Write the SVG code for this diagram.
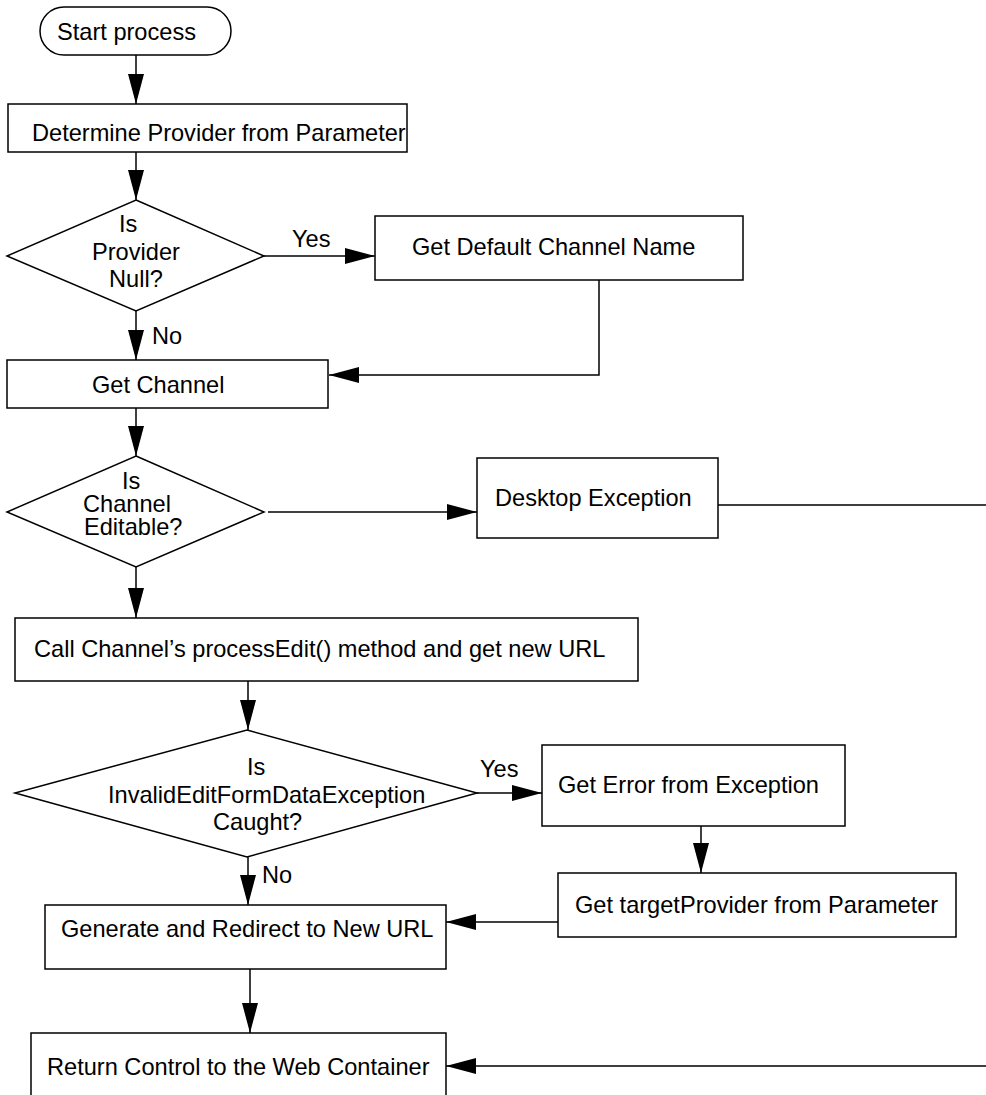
<svg xmlns="http://www.w3.org/2000/svg" width="986" height="1095" viewBox="0 0 986 1095">
<style>
.n{fill:#fff;stroke:#000;stroke-width:1.5}
.c{fill:none;stroke:#000;stroke-width:1.5}
text{font-family:"Liberation Sans",Arial,Helvetica,sans-serif;font-size:23.6px;fill:#000}
</style>
<defs>
<marker id="ah" markerUnits="userSpaceOnUse" markerWidth="30" markerHeight="16" refX="30" refY="8" orient="auto" overflow="visible">
<path d="M0,0 L30,8 L0,16 Z" fill="#000"/>
</marker>
</defs>
<rect width="986" height="1095" fill="#fff"/>
<g id="connectors">
<line class="c" x1="136" y1="55" x2="136" y2="104" marker-end="url(#ah)"/>
<line class="c" x1="136" y1="152" x2="136" y2="200" marker-end="url(#ah)"/>
<line class="c" x1="264" y1="256" x2="375" y2="256" marker-end="url(#ah)"/>
<path class="c" d="M599,280 V375 H329" marker-end="url(#ah)"/>
<line class="c" x1="136" y1="311" x2="136" y2="360" marker-end="url(#ah)"/>
<line class="c" x1="136" y1="408" x2="136" y2="456" marker-end="url(#ah)"/>
<line class="c" x1="268" y1="512" x2="477" y2="512" marker-end="url(#ah)"/>
<path class="c" d="M718,505 H994 V1066 H446" marker-end="url(#ah)"/>
<line class="c" x1="136" y1="567" x2="136" y2="618" marker-end="url(#ah)"/>
<line class="c" x1="248" y1="681" x2="248" y2="730" marker-end="url(#ah)"/>
<line class="c" x1="477" y1="793" x2="542" y2="793" marker-end="url(#ah)"/>
<line class="c" x1="701" y1="826" x2="701" y2="873" marker-end="url(#ah)"/>
<line class="c" x1="558" y1="922" x2="446" y2="922" marker-end="url(#ah)"/>
<line class="c" x1="248" y1="857" x2="248" y2="905" marker-end="url(#ah)"/>
<line class="c" x1="250" y1="969" x2="250" y2="1033" marker-end="url(#ah)"/>
<text x="292" y="247">Yes</text>
<text x="152" y="344">No</text>
<text x="480" y="777">Yes</text>
<text x="262" y="883">No</text>
</g>
<g id="start">
<rect class="n" x="40" y="7" width="191" height="48" rx="24" ry="24"/>
<text x="57" y="40">Start process</text>
</g>
<g id="determine">
<rect class="n" x="8" y="104" width="399" height="48"/>
<text x="32" y="141">Determine Provider from Parameter</text>
</g>
<g id="providerNull">
<polygon class="n" points="136,200 264,256 136,311 7,256"/>
<text x="119" y="232">Is</text>
<text x="92" y="260">Provider</text>
<text x="109" y="287">Null?</text>
</g>
<g id="defaultChannel">
<rect class="n" x="375" y="216" width="368" height="64"/>
<text x="412" y="255">Get Default Channel Name</text>
</g>
<g id="getChannel">
<rect class="n" x="7" y="360" width="321" height="48"/>
<text x="92" y="393">Get Channel</text>
</g>
<g id="editable">
<polygon class="n" points="136,456 264,512 136,567 7,512"/>
<text x="122" y="489">Is</text>
<text x="83" y="512">Channel</text>
<text x="84" y="535">Editable?</text>
</g>
<g id="desktopException">
<rect class="n" x="477" y="458" width="241" height="80"/>
<text x="495" y="506">Desktop Exception</text>
</g>
<g id="processEdit">
<rect class="n" x="15" y="618" width="623" height="63"/>
<text x="34" y="657">Call Channel’s processEdit() method and get new URL</text>
</g>
<g id="invalidCaught">
<polygon class="n" points="247,730 477,793 247,857 15,793"/>
<text x="247" y="775">Is</text>
<text x="108" y="803">InvalidEditFormDataException</text>
<text x="213" y="830">Caught?</text>
</g>
<g id="getError">
<rect class="n" x="542" y="745" width="303" height="81"/>
<text x="558" y="793">Get Error from Exception</text>
</g>
<g id="targetProvider">
<rect class="n" x="558" y="873" width="398" height="64"/>
<text x="575" y="913">Get targetProvider from Parameter</text>
</g>
<g id="redirect">
<rect class="n" x="45" y="905" width="401" height="64"/>
<text x="61" y="937">Generate and Redirect to New URL</text>
</g>
<g id="returnControl">
<rect class="n" x="31" y="1033" width="415" height="80"/>
<text x="47" y="1075">Return Control to the Web Container</text>
</g>
</svg>
